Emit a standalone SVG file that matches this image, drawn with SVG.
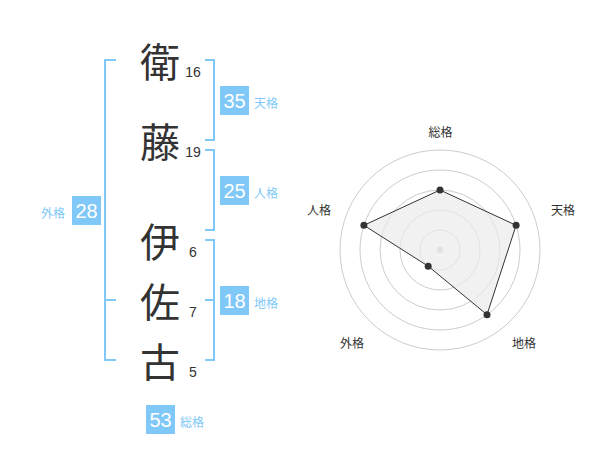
<svg xmlns="http://www.w3.org/2000/svg" width="600" height="470" viewBox="0 0 600 470">
<style>
.ch{font-family:"Noto Sans CJK JP","Noto Sans CJK SC",sans-serif;font-size:40px;fill:#333;text-anchor:middle;dominant-baseline:central}
.st{font-family:"Liberation Sans",Arial,sans-serif;font-size:14px;fill:#333;text-anchor:middle}
.br{fill:none;stroke:#80c8f8;stroke-width:2}
.box{fill:#80c8f8}
.num{font-family:"Liberation Sans",Arial,sans-serif;font-size:20px;fill:#fff;text-anchor:middle;dominant-baseline:central}
.lb{font-family:"Noto Sans CJK JP","Noto Sans CJK SC",sans-serif;font-size:12px;fill:#80c8f8;dominant-baseline:central}
.ring{fill:none;stroke:#ccc;stroke-width:1}
.rl{font-family:"Noto Sans CJK JP","Noto Sans CJK SC",sans-serif;font-size:12px;fill:#333;text-anchor:middle;dominant-baseline:central}
.pt{fill:#333}
</style>
<rect width="600" height="470" fill="#fff"/>
<g id="name">
<g id="c1"><text class="ch" x="160" y="60">衛</text><text class="st" x="193" y="77">16</text></g>
<g id="c2"><text class="ch" x="160" y="140">藤</text><text class="st" x="193" y="157">19</text></g>
<g id="c3"><text class="ch" x="160" y="240">伊</text><text class="st" x="193" y="257">6</text></g>
<g id="c4"><text class="ch" x="160" y="300">佐</text><text class="st" x="193" y="317">7</text></g>
<g id="c5"><text class="ch" x="160" y="360">古</text><text class="st" x="193" y="377">5</text></g>
</g>
<g id="connectors">
<path class="br" d="M205,60H214V140H205"/>
<path class="br" d="M205,150H214V230H205"/>
<path class="br" d="M205,240H214V360H205M205,300H214"/>
<path class="br" d="M116,60H105V360H116M105,300H116"/>
</g>
<g id="tenkaku"><rect class="box" x="220" y="86" width="29" height="29"/><text class="num" x="234.5" y="101">35</text><text class="lb" x="254" y="102">天格</text></g>
<g id="jinkaku"><rect class="box" x="220" y="176" width="29" height="29"/><text class="num" x="234.5" y="191">25</text><text class="lb" x="254" y="192">人格</text></g>
<g id="chikaku"><rect class="box" x="220" y="286" width="29" height="29"/><text class="num" x="234.5" y="301">18</text><text class="lb" x="254" y="302">地格</text></g>
<g id="gaikaku"><rect class="box" x="72" y="196" width="29" height="29"/><text class="num" x="86.5" y="211">28</text><text class="lb" x="65" y="212" text-anchor="end">外格</text></g>
<g id="soukaku"><rect class="box" x="146" y="405" width="29" height="29"/><text class="num" x="160.5" y="420">53</text><text class="lb" x="180" y="421">総格</text></g>
<g id="radar">
<circle class="ring" cx="440" cy="250" r="20"/>
<circle class="ring" cx="440" cy="250" r="40"/>
<circle class="ring" cx="440" cy="250" r="60"/>
<circle class="ring" cx="440" cy="250" r="80"/>
<circle class="ring" cx="440" cy="250" r="100"/>
<circle cx="440" cy="250" r="3.3" fill="#ccc"/>
<polygon points="440,190 516.1,225.3 487,314.7 428.2,266.2 363.9,225.3" fill="#ebebeb" fill-opacity="0.7" stroke="#333" stroke-width="1"/>
<circle class="pt" cx="440" cy="190" r="3.5"/>
<circle class="pt" cx="516.1" cy="225.3" r="3.5"/>
<circle class="pt" cx="487" cy="314.7" r="3.5"/>
<circle class="pt" cx="428.2" cy="266.2" r="3.5"/>
<circle class="pt" cx="363.9" cy="225.3" r="3.5"/>
<text class="rl" x="440.5" y="131">総格</text>
<text class="rl" x="563" y="209">天格</text>
<text class="rl" x="524" y="342">地格</text>
<text class="rl" x="352" y="342">外格</text>
<text class="rl" x="319" y="209">人格</text>
</g>
</svg>
